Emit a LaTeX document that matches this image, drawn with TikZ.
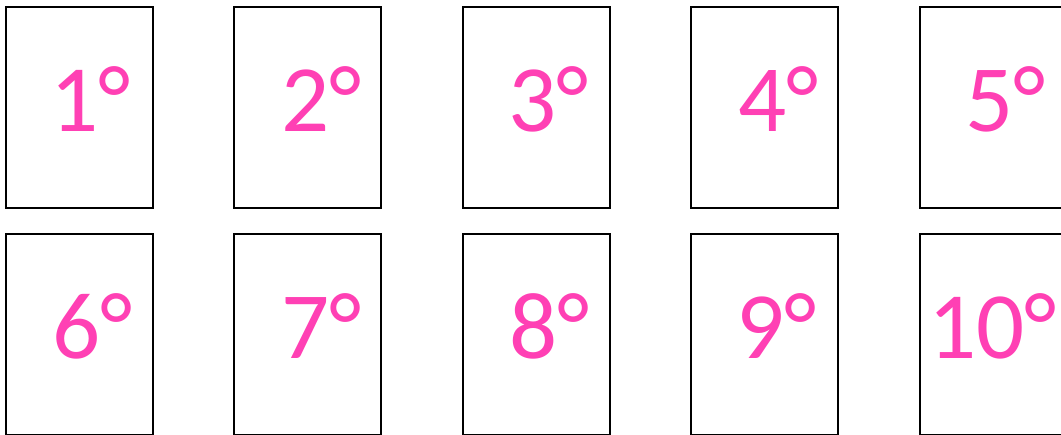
\documentclass[tikz,border=0pt]{standalone}
\usepackage{fontspec}
\setmainfont{Carlito}
\usepackage{xcolor}
\usetikzlibrary{positioning,calc}
\definecolor{degpink}{HTML}{FF40B4}

\begin{document}
\begin{tikzpicture}[
    x=1pt,y=-1pt,
    card/.style={rectangle,draw=black,line width=2pt,fill=white,minimum width=147pt,minimum height=201pt,inner sep=0pt},
    deg/.style={inner sep=0pt,anchor=base west,text=degpink,font=\fontsize{95}{95}\selectfont},
]
\useasboundingbox (0,0) rectangle (1061,435);
% top row
\node[card] (d1)  at (79.5,107.5)  {};
\node[card] (d2)  at (307.5,107.5) {};
\node[card] (d3)  at (536.5,107.5) {};
\node[card] (d4)  at (764.5,107.5) {};
\node[card] (d5)  at (993.5,107.5) {};
% bottom row
\node[card] (d6)  at (79.5,334.5)  {};
\node[card] (d7)  at (307.5,334.5) {};
\node[card] (d8)  at (536.5,334.5) {};
\node[card] (d9)  at (764.5,334.5) {};
\node[card] (d10) at (993.5,334.5) {};

\node[deg] (n1)  at ($(d1.north west)+(45,126)$)  {1°};
\node[deg] (n2)  at ($(d2.north west)+(48,126)$)  {2°};
\node[deg] (n3)  at ($(d3.north west)+(46,126)$)  {3°};
\node[deg] (n4)  at ($(d4.north west)+(48,126)$)  {4°};
\node[deg] (n5)  at ($(d5.north west)+(46,126)$)  {5°};
\node[deg] (n6)  at ($(d6.north west)+(47,126)$)  {6°};
\node[deg] (n7)  at ($(d7.north west)+(48,126)$)  {7°};
\node[deg] (n8)  at ($(d8.north west)+(47,126)$)  {8°};
\node[deg] (n9)  at ($(d9.north west)+(46,126)$)  {9°};
\node[deg] (n10) at ($(d10.north west)+(9,126)$)  {10°};
\end{tikzpicture}
\end{document}
